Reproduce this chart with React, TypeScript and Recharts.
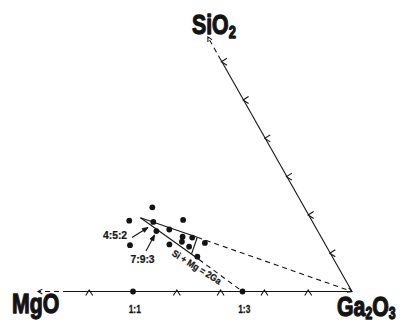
import { ScatterChart, Scatter, XAxis, YAxis, ReferenceLine, ReferenceDot } from 'recharts';

// compositions are MgO : Ga2O3 : SiO2
type Ratio = [number, number, number];

const samples: Ratio[] = [
  [0.347, 0.433, 0.220],
  [0.417, 0.398, 0.185],
  [0.293, 0.520, 0.187],
  [0.337, 0.501, 0.162],
  [0.316, 0.541, 0.143],
  [0.295, 0.564, 0.141],
  [0.273, 0.600, 0.127],
  [0.324, 0.546, 0.130],
  [0.356, 0.521, 0.123],
  [0.314, 0.569, 0.117],
  [0.447, 0.432, 0.121],
  [0.308, 0.601, 0.091],
];
const namedPhases: Ratio[] = [[4, 5, 2], [7, 9, 3]];
const binaryPhases: Ratio[] = [[1, 1, 0], [1, 3, 0]];
const binaryLabels = ['1:1', '1:3'];
const baseTicks = [0.4, 0.6, 0.7, 0.8, 0.9]; // Ga2O3 fraction on MgO–Ga2O3 join
const sideTicks = [0.1, 0.2, 0.3, 0.4, 0.5, 0.6]; // SiO2 fraction on Ga2O3–SiO2 join

const fieldApex: Ratio = [0.3875, 0.4197, 0.1928];
const fieldUpper: Ratio = [0.2831, 0.5753, 0.1416];
const fieldLower: Ratio = [0.3179, 0.5841, 0.098];
const substEnd: Ratio = [0.3079, 0.6085, 0.0836];
const gaVertex: Ratio = [0, 1, 0];
const mgoArrowTip: Ratio = [0.7169, 0.2831, 0];
const mgoSolidStart: Ratio = [0.6484, 0.3516, 0];
const sioArrowTip: Ratio = [0, 0.3352, 0.6648];
const sioSolidEnd: Ratio = [0, 0.3953, 0.6047];

const INK = '#141414';
const W = 402;
const H = 323;
const SIO2_X = 0.505;
const SIO2_Y = 0.874;
const FONT = "'Liberation Sans', Arial, sans-serif";

function toXY(r: Ratio) {
  const t = r[0] + r[1] + r[2];
  const g = r[1] / t;
  const s = r[2] / t;
  return { x: g + SIO2_X * s, y: SIO2_Y * s };
}

const seg = (a: Ratio, b: Ratio) => [toXY(a), toXY(b)];

function lineWithHead(head: 'open' | 'filled' | 'none', dashed = false) {
  return (p: any) => {
    const { x1, y1, x2, y2 } = p;
    const a = Math.atan2(y2 - y1, x2 - x1);
    const len = head === 'filled' ? 6 : 5;
    const spread = head === 'filled' ? 0.38 : 0.5;
    const hx1 = x2 - len * Math.cos(a - spread);
    const hy1 = y2 - len * Math.sin(a - spread);
    const hx2 = x2 - len * Math.cos(a + spread);
    const hy2 = y2 - len * Math.sin(a + spread);
    return (
      <g>
        <line x1={x1} y1={y1} x2={x2} y2={y2} stroke={INK} strokeWidth={1.1}
          strokeDasharray={dashed ? '5 4' : undefined} />
        {head === 'open' && (
          <polyline points={`${hx1},${hy1} ${x2},${y2} ${hx2},${hy2}`} fill="none" stroke={INK} strokeWidth={1.1} />
        )}
        {head === 'filled' && (
          <polygon points={`${hx1},${hy1} ${x2},${y2} ${hx2},${hy2}`} fill={INK} stroke={INK} strokeWidth={0.8} />
        )}
      </g>
    );
  };
}

const dotShape = (p: any) => <circle cx={p.cx} cy={p.cy} r={2.9} fill={INK} />;
const upTick = (p: any) => (
  <polyline points={`${p.cx - 3.5},${p.cy + 4} ${p.cx},${p.cy - 1.5} ${p.cx + 3.5},${p.cy + 4}`}
    fill="none" stroke={INK} strokeWidth={1.1} />
);
const leftTick = (p: any) => (
  <polyline points={`${p.cx + 5},${p.cy - 3.5} ${p.cx - 0.5},${p.cy} ${p.cx + 5},${p.cy + 3.5}`}
    fill="none" stroke={INK} strokeWidth={1.1} />
);

function smallText(text: string, size: number, anchor: 'start' | 'middle', rotate = 0, sx = 0.9) {
  return (p: any) => (
    <g transform={`translate(${p.cx},${p.cy}) rotate(${rotate}) scale(${sx},1)`}>
      <text x={0} y={0} textAnchor={anchor} fontFamily={FONT} fontWeight="bold" fontSize={size} fill={INK}
        stroke={INK} strokeWidth={0.25}>
        {text}
      </text>
    </g>
  );
}

function formula(kind: 'MgO' | 'SiO2' | 'Ga2O3') {
  return (p: any) => (
    <g transform={`translate(${p.cx},${p.cy}) scale(0.76,1)`}>
      <text x={0} y={0} fontFamily={FONT} fontWeight="bold" fontSize={28} fill={INK}
        stroke={INK} strokeWidth={1.3} strokeLinejoin="round">
        {kind === 'MgO' && 'MgO'}
        {kind === 'SiO2' && (
          <>
            <tspan>SiO</tspan>
            <tspan fontSize={17} dy={4}>2</tspan>
          </>
        )}
        {kind === 'Ga2O3' && (
          <>
            <tspan>Ga</tspan>
            <tspan fontSize={16} dy={3}>2</tspan>
            <tspan dy={-3}>O</tspan>
            <tspan fontSize={16} dy={3}>3</tspan>
          </>
        )}
      </text>
    </g>
  );
}

export default function App() {
  const sampleData = [...samples, ...namedPhases, ...binaryPhases].map(toXY);
  const baseTickData = baseTicks.map((g) => toXY([1 - g, g, 0]));
  const sideTickData = sideTicks.map((s) => toXY([0, 1 - s, s]));
  const binaryXY = binaryPhases.map(toXY);

  return (
    <div style={{ position: 'absolute', left: 0, top: 0, width: W, height: H, background: '#fff' }}>
      <ScatterChart width={W} height={H} margin={{ top: 0, right: 0, bottom: 0, left: 0 }}>
        <XAxis type="number" dataKey="x" domain={[0.1963, 1.1142]} hide allowDataOverflow />
        <YAxis type="number" dataKey="y" domain={[-0.0719, 0.6655]} hide allowDataOverflow />

        {/* MgO – Ga2O3 join */}
        <ReferenceLine ifOverflow="visible" segment={seg(gaVertex, mgoSolidStart)} shape={lineWithHead('none')} />
        <ReferenceLine ifOverflow="visible" segment={seg(mgoSolidStart, mgoArrowTip)} shape={lineWithHead('open', true)} />
        {/* Ga2O3 – SiO2 join */}
        <ReferenceLine ifOverflow="visible" segment={seg(gaVertex, sioSolidEnd)} shape={lineWithHead('none')} />
        <ReferenceLine ifOverflow="visible" segment={seg(sioSolidEnd, sioArrowTip)} shape={lineWithHead('open', true)} />

        {/* solid solution field */}
        <ReferenceLine ifOverflow="visible" segment={seg(fieldApex, fieldUpper)} shape={lineWithHead('none')} />
        <ReferenceLine ifOverflow="visible" segment={seg(fieldUpper, gaVertex)} shape={lineWithHead('open', true)} />
        <ReferenceLine ifOverflow="visible" segment={seg(fieldApex, substEnd)} shape={lineWithHead('none')} />
        <ReferenceLine ifOverflow="visible" segment={seg(substEnd, binaryPhases[1])} shape={lineWithHead('none', true)} />
        <ReferenceLine ifOverflow="visible" segment={seg(fieldUpper, fieldLower)} shape={lineWithHead('none')} />

        {/* label arrows */}
        <ReferenceLine ifOverflow="visible" segment={[{ x: 0.4977, y: 0.1233 }, { x: 0.5342, y: 0.1461 }]} shape={lineWithHead('filled')} />
        <ReferenceLine ifOverflow="visible" segment={[{ x: 0.5297, y: 0.0925 }, { x: 0.5491, y: 0.129 }]} shape={lineWithHead('filled')} />

        <Scatter data={baseTickData} shape={upTick} isAnimationActive={false} />
        <Scatter data={sideTickData} shape={leftTick} isAnimationActive={false} />
        <Scatter data={sampleData} shape={dotShape} isAnimationActive={false} />

        <ReferenceDot ifOverflow="visible" x={0.4589} y={0.121} shape={smallText('4:5:2', 11.5, 'middle')} />
        <ReferenceDot ifOverflow="visible" x={0.5217} y={0.0662} shape={smallText('7:9:3', 11.5, 'middle')} />
        {binaryXY.map((p, i) => (
          <ReferenceDot key={binaryLabels[i]} ifOverflow="visible" x={p.x + 0.004} y={p.y - 0.05}
            shape={smallText(binaryLabels[i], 10.5, 'middle', 0, 0.8)} />
        ))}
        <ReferenceDot ifOverflow="visible" x={0.6415} y={0.0495} shape={smallText('Si + Mg = 2Ga', 9.5, 'middle', 32, 0.9)} />

        <ReferenceDot ifOverflow="visible" x={0.2237} y={-0.0502} shape={formula('MgO')} />
        <ReferenceDot ifOverflow="visible" x={0.6347} y={0.589} shape={formula('SiO2')} />
        <ReferenceDot ifOverflow="visible" x={0.9658} y={-0.0548} shape={formula('Ga2O3')} />
      </ScatterChart>
    </div>
  );
}
